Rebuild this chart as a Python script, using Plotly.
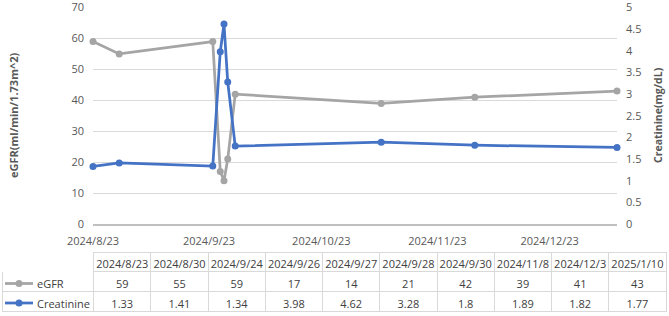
import plotly.graph_objects as go

dates = ["2024-08-23", "2024-08-30", "2024-09-24", "2024-09-26", "2024-09-27",
         "2024-09-28", "2024-09-30", "2024-11-08", "2024-12-03", "2025-01-10"]
date_labels = ["2024/8/23", "2024/8/30", "2024/9/24", "2024/9/26", "2024/9/27",
               "2024/9/28", "2024/9/30", "2024/11/8", "2024/12/3", "2025/1/10"]
egfr = [59, 55, 59, 17, 14, 21, 42, 39, 41, 43]
creatinine = [1.33, 1.41, 1.34, 3.98, 4.62, 3.28, 1.8, 1.89, 1.82, 1.77]
xtick_vals = ["2024-08-23", "2024-09-23", "2024-10-23", "2024-11-23", "2024-12-23"]
xtick_text = ["2024/8/23", "2024/9/23", "2024/10/23", "2024/11/23", "2024/12/23"]
egfr_ticks = [0, 10, 20, 30, 40, 50, 60, 70]
creat_ticks = [0, 0.5, 1, 1.5, 2, 2.5, 3, 3.5, 4, 4.5, 5]

GRAY = "#A5A5A5"
BLUE = "#4472C4"
TXT = "#595959"
FONT = "Open Sans"
W, H = 669, 316

def px(x):
    return x / W

def py(y):
    return (H - y) / H

fig = go.Figure()
fig.add_trace(go.Scatter(x=dates, y=egfr, name="eGFR", mode="lines+markers",
                         line=dict(color=GRAY, width=2.75), marker=dict(size=7, color=GRAY),
                         yaxis="y", cliponaxis=False))
fig.add_trace(go.Scatter(x=dates, y=creatinine, name="Creatinine", mode="lines+markers",
                         line=dict(color=BLUE, width=2.75), marker=dict(size=7, color=BLUE),
                         yaxis="y2", cliponaxis=False))

header_vals = [""] + date_labels
cells_vals = [["", ""]] + [[str(e), str(c)] for e, c in zip(egfr, creatinine)]
line_colors = ["rgba(0,0,0,0)"] + ["#D9D9D9"] * len(date_labels)

fig.add_trace(go.Table(
    domain=dict(x=[0.003, px(667)], y=[0, py(252)]),
    columnwidth=[92] + [57.5] * len(date_labels),
    header=dict(values=header_vals, height=19.5, fill=dict(color="white"),
                line=dict(color=line_colors, width=1),
                font=dict(family=FONT, size=11, color="#404040"), align="center"),
    cells=dict(values=cells_vals, height=20, fill=dict(color="white"),
               line=dict(color="#D9D9D9", width=1),
               font=dict(family=FONT, size=11, color="#404040"), align="center"),
))

shapes = []
annotations = []
for row_y, col, label in [(283.5, GRAY, "eGFR"), (303, BLUE, "Creatinine")]:
    shapes.append(dict(type="line", xref="paper", yref="paper", x0=px(5), x1=px(33),
                       y0=py(row_y), y1=py(row_y), line=dict(color=col, width=2.75), layer="above"))
    shapes.append(dict(type="circle", xref="paper", yref="paper", x0=px(15.5), x1=px(22.5),
                       y0=py(row_y + 3.5), y1=py(row_y - 3.5), fillcolor=col,
                       line=dict(color=col, width=0), layer="above"))
    annotations.append(dict(text=label, xref="paper", yref="paper", x=px(35), y=py(row_y),
                            xanchor="left", yanchor="middle", showarrow=False,
                            font=dict(family=FONT, size=11, color="#404040")))

annotations.append(dict(text="<b>eGFR(ml/min/1.73m^2)</b>", xref="paper", yref="paper",
                        x=px(13), y=py(115), textangle=-90, showarrow=False,
                        xanchor="center", yanchor="middle",
                        font=dict(family=FONT, size=11, color=TXT)))
annotations.append(dict(text="<b>Creatinine(mg/dL)</b>", xref="paper", yref="paper",
                        x=px(658), y=py(115), textangle=-90, showarrow=False,
                        xanchor="center", yanchor="middle",
                        font=dict(family=FONT, size=10.5, color=TXT)))

fig.update_layout(
    width=W, height=H, margin=dict(l=0, r=0, t=0, b=0),
    paper_bgcolor="white", plot_bgcolor="white", showlegend=False,
    font=dict(family=FONT, size=11, color=TXT),
    xaxis=dict(domain=[px(93), px(617)], type="date",
               range=["2024-08-23", "2025-01-10"],
               tickvals=xtick_vals, ticktext=xtick_text, showgrid=False,
               showline=True, linecolor="#BFBFBF", linewidth=1.5, zeroline=False,
               ticks="", ticklabelstandoff=6, tickfont=dict(size=11, color=TXT),
               ticklabeloverflow="allow", anchor="y", automargin=False),
    yaxis=dict(domain=[py(224), py(7.5)], range=[0, 70.02], tickvals=egfr_ticks,
               showgrid=True, gridcolor="#D9D9D9", gridwidth=1, zeroline=False,
               ticks="", ticklabelstandoff=8, tickfont=dict(size=11, color=TXT),
               ticklabeloverflow="allow", automargin=False),
    yaxis2=dict(overlaying="y", side="right", range=[0, 5.0015],
                tickvals=creat_ticks,
                showgrid=False, zeroline=False, ticks="", ticklabelstandoff=8,
                tickfont=dict(size=11, color=TXT), ticklabeloverflow="allow",
                automargin=False, anchor="x"),
    shapes=shapes, annotations=annotations,
)

fig.write_html("out.html")
